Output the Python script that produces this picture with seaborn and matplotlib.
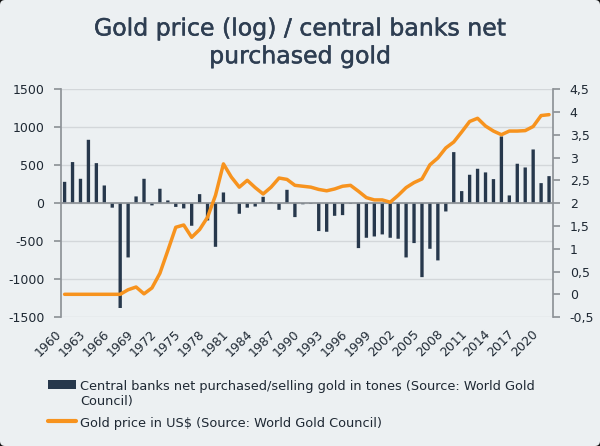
import matplotlib
matplotlib.use("Agg")
import matplotlib.pyplot as plt
import matplotlib.patheffects as pe
import matplotlib.transforms as mtransforms
import seaborn as sns
import numpy as np
from matplotlib.patches import FancyBboxPatch, Patch
from matplotlib.lines import Line2D

# ─── Data ─────────────────────────────────────────────────────────────────────
years = list(range(1960, 2022))

# central banks net purchases / sales, tonnes (left axis)
net_purchases = [
    280, 540, 320, 833, 526, 232, -60, -1380, -715, 88,
    320, -30, 189, 35, -50, -70, -298, 118, -228, -575,
    140, -10, -140, -60, -45, 83, 13, -88, 175, -184,
    -15, -10, -368, -377, -167, -158, -10, -592, -456, -439,
    -412, -456, -469, -715, -526, -974, -601, -754, -110, 671,
    158, 373, 452, 404, 316, 877, 101, 518, 469, 706,
    263, 355,
]

# gold price, log scale (right axis)
gold_price_log = [
    0, 0, 0, 0, 0, 0, 0, 0, 0.10, 0.16,
    0.01, 0.14, 0.46, 0.96, 1.47, 1.52, 1.25, 1.42, 1.69, 2.17,
    2.86, 2.57, 2.35, 2.50, 2.34, 2.20, 2.35, 2.55, 2.52, 2.39,
    2.37, 2.35, 2.30, 2.27, 2.31, 2.37, 2.39, 2.26, 2.12, 2.07,
    2.07, 2.02, 2.17, 2.34, 2.45, 2.53, 2.84, 2.99, 3.21, 3.34,
    3.56, 3.79, 3.86, 3.69, 3.58, 3.50, 3.58, 3.58, 3.59, 3.68,
    3.92, 3.94,
]

left_ticks = [-1500, -1000, -500, 0, 500, 1000, 1500]
right_ticks = [-0.5, 0, 0.5, 1, 1.5, 2, 2.5, 3, 3.5, 4, 4.5]
year_ticks = list(range(1960, 2021, 3))

title = "Gold price (log) / central banks net\npurchased gold"
bar_label = "Central banks net purchased/selling gold in tones (Source: World Gold\nCouncil)"
line_label = "Gold price in US$ (Source: World Gold Council)"

# ─── Style ────────────────────────────────────────────────────────────────────
BG = "#ECF0F2"
NAVY = "#27384C"
ORANGE = "#F7931E"
GRID = "#D3D7DA"
SPINE = "#8E9398"
TEXT = "#1E2833"

sns.set_theme(style="white")
plt.rcParams["font.family"] = ["DejaVu Sans"]

fig = plt.figure(figsize=(6, 4.46), dpi=100)
fig.patch.set_facecolor("#111111")
fig.add_artist(FancyBboxPatch((0, 0), 6, 4.46, boxstyle="round,pad=0,rounding_size=0.05",
                              transform=fig.dpi_scale_trans, facecolor=BG, edgecolor="none",
                              zorder=-10))

ax = fig.add_axes([0.1017, 0.289, 0.82, 0.5112])
ax.set_facecolor("none")

# bars
sns.barplot(x=years, y=net_purchases, native_scale=True, color=NAVY, saturation=1,
            width=0.42, linewidth=0, ax=ax, zorder=3)
for bar in ax.patches:
    bar.set_snap(False)
ax.set_xlim(1959.55, 2021.5)
ax.set_ylim(-1500, 1500)
ax.set_yticks(left_ticks)
ax.set_yticklabels([str(t) for t in left_ticks])
ax.yaxis.grid(True, color=GRID, lw=1, zorder=0)
ax.set_axisbelow(True)

for s in ["top", "right"]:
    ax.spines[s].set_visible(False)
ax.spines["left"].set_color(SPINE)
ax.spines["bottom"].set_position(("data", 0))
ax.spines["bottom"].set_color(SPINE)
ax.spines["bottom"].set_zorder(4)
ax.set_xticks(np.arange(1960.5, 2021.5, 1))
ax.tick_params(axis="x", direction="out", length=3, color=SPINE, labelbottom=False)
ax.tick_params(axis="y", direction="out", left=True, length=5, color=SPINE,
               labelsize=9, labelcolor=TEXT, pad=7)
ax.set_xlabel("")
ax.set_ylabel("")

# year labels at bottom of plot
sec = ax.secondary_xaxis(0.0)
sec.set_xticks(year_ticks)
sec.set_xticklabels([str(y) for y in year_ticks], rotation=45, ha="right", va="center",
                    rotation_mode="anchor")
sec.tick_params(length=0, labelsize=9, labelcolor=TEXT, pad=11)
sec.spines["bottom"].set_visible(False)
shift = mtransforms.ScaledTranslation(-5 / 100, 0, fig.dpi_scale_trans)
for lbl in sec.get_xticklabels():
    lbl.set_transform(lbl.get_transform() + shift)

# gold price line on right axis
ax2 = ax.twinx()
sns.lineplot(x=years, y=gold_price_log, color=ORANGE, lw=2.5, ax=ax2, zorder=5)
ax2.set_ylim(-0.5, 4.5)
ax2.set_yticks(right_ticks)
ax2.set_yticklabels([f"{t:g}".replace(".", ",") for t in right_ticks])
ax2.tick_params(axis="y", direction="out", right=True, length=5, color=SPINE,
                labelsize=9, labelcolor=TEXT, pad=7)
for s in ["top", "left", "bottom"]:
    ax2.spines[s].set_visible(False)
ax2.spines["right"].set_color(SPINE)
ax2.set_xlabel("")
ax2.set_ylabel("")
ax2.grid(False)

fig.text(0.5, 0.905, title, ha="center", va="center", fontsize=17, color="#2E3E52",
         linespacing=1.2,
         path_effects=[pe.withStroke(linewidth=0.35, foreground="#2E3E52")])

handles = [Patch(facecolor=NAVY, edgecolor="none"), Line2D([], [], color=ORANGE, lw=3)]
leg = fig.legend(handles, [bar_label, line_label], loc="upper left",
                 bbox_to_anchor=(0.06, 1 - 368 / 446), frameon=False, fontsize=9.3,
                 handlelength=2.2, handletextpad=0.3, labelspacing=0.7, labelcolor=TEXT)
for row in leg._legend_handle_box.get_children():
    for entry in row.get_children():
        entry.align = "top"

fig.savefig("out.png", dpi=100, facecolor=fig.get_facecolor())
